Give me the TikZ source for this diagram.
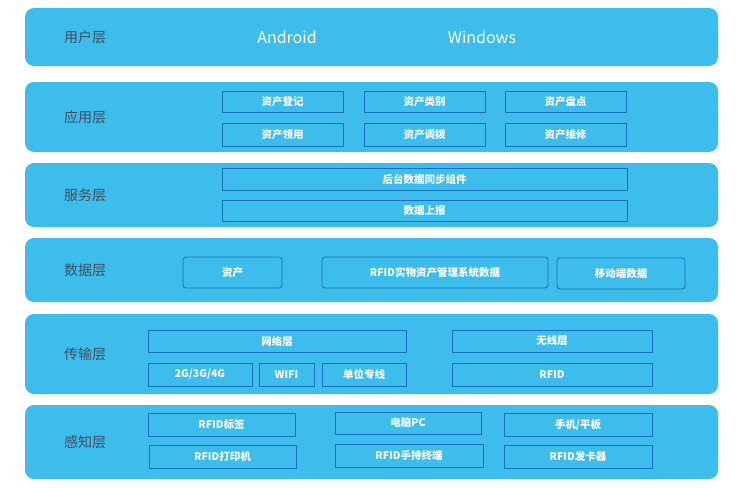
\documentclass[tikz,border=0pt]{standalone}
\usepackage{fontspec}
\setmainfont{Noto Sans CJK SC}
\definecolor{band}{HTML}{3DBDEB}
\definecolor{bord}{HTML}{1A6FC4}
\definecolor{lab}{HTML}{3F4F5F}
\begin{document}
\begin{tikzpicture}[x=1pt,y=-1pt,
 bandbox/.style={fill=band,rounded corners=9pt},
 lbl/.style={text=lab,font=\fontsize{14}{16}\selectfont},
 bx/.style={draw=bord,line width=0.8pt,text=white,font=\fontsize{10.5}{12}\selectfont\bfseries},
 rbx/.style={bx,rounded corners=3pt}]
\useasboundingbox (0,0) rectangle (738,487);
\def\B#1#2#3#4{\path[bandbox] (25,#1) rectangle (718,#2); \node[lbl] (#3) at (85,{(#1+#2)/2}) {#4};}
\def\R#1#2#3#4#5#6#7{\draw[#7] (#1,#2) rectangle (#3,#4) node[midway,text=white,font=\fontsize{10.5}{12}\selectfont\bfseries] (#5) {#6};}
\B{8}{66}{l1}{用户层}
\B{82}{152}{l2}{应用层}
\B{163}{227}{l3}{服务层}
\B{238}{302}{l4}{数据层}
\B{314}{394}{l5}{传输层}
\B{405}{479}{l6}{感知层}
\node[text=white,font=\fontsize{16}{18}\selectfont] (and) at (287,37) {Android};
\node[text=white,font=\fontsize{16}{18}\selectfont] (win) at (482,37) {Windows};
\R{222}{91}{343}{112}{a1}{资产登记}{bx}
\R{364}{91}{485}{112}{a2}{资产类别}{bx}
\R{505}{91}{626}{112}{a3}{资产盘点}{bx}
\R{222}{123}{343}{146}{a4}{资产领用}{bx}
\R{364}{123}{485}{146}{a5}{资产调拨}{bx}
\R{505}{123}{626}{146}{a6}{资产维修}{bx}
\R{222}{168}{627}{190}{s1}{后台数据同步组件}{bx}
\R{222}{200}{627}{221}{s2}{数据上报}{bx}
\R{183}{257}{282}{288}{d1}{资产}{rbx}
\R{322}{257}{548}{288}{d2}{RFID实物资产管理系统数据}{rbx}
\R{557}{258}{685}{289}{d3}{移动端数据}{rbx}
\R{148}{330}{406}{352}{t1}{网络层}{bx}
\R{452}{330}{652}{352}{t2}{无线层}{bx}
\R{148}{363}{252}{386}{t3}{2G/3G/4G}{bx}
\R{259}{363}{314}{386}{t4}{WIFI}{bx}
\R{322}{363}{406}{386}{t5}{单位专线}{bx}
\R{452}{363}{652}{386}{t6}{RFID}{bx}
\R{148}{413}{295}{436}{p1}{RFID标签}{bx}
\R{335}{412}{481}{434}{p2}{电脑PC}{bx}
\R{504}{413}{652}{436}{p3}{手机/平板}{bx}
\R{149}{445}{296}{468}{p4}{RFID打印机}{bx}
\R{335}{444}{483}{467}{p5}{RFID手持终端}{bx}
\R{504}{445}{652}{468}{p6}{RFID发卡器}{bx}
\end{tikzpicture}
\end{document}
